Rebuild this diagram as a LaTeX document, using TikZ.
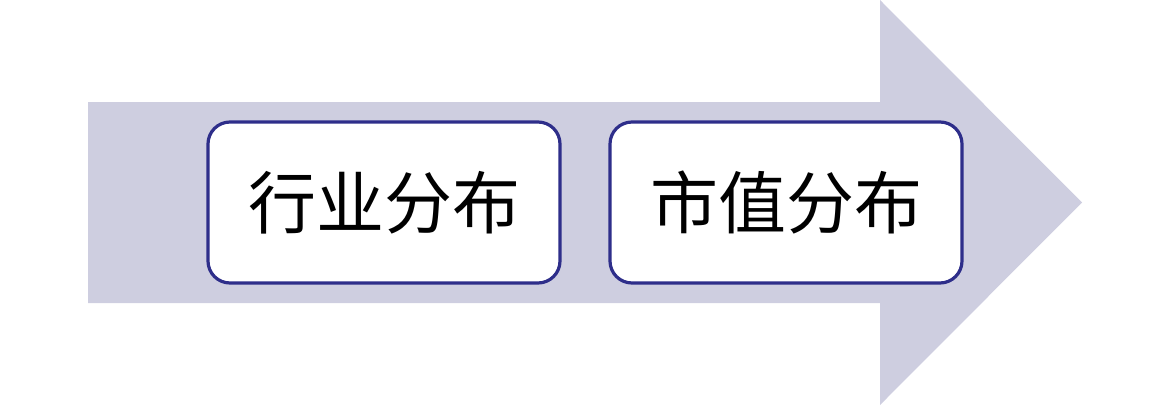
\documentclass[tikz,border=0pt]{standalone}
\usepackage{fontspec}
\newfontfamily\cjk{Noto Sans CJK SC}
\definecolor{arrowfill}{RGB}{206,206,224}
\definecolor{boxline}{RGB}{46,46,138}
\begin{document}
\begin{tikzpicture}[x=1pt,y=-1pt,
  stagebox/.style={draw=boxline,line width=3.2pt,fill=white,rounded corners=22pt,
    minimum width=352pt,minimum height=161pt,inner sep=0pt,
    font=\cjk\fontsize{68}{72}\selectfont,text=black}]
\useasboundingbox (0,0) rectangle (1170,405);
\fill[arrowfill] (88,102) -- (880,102) -- (880,0) -- (1082,202.5) -- (880,405) -- (880,303) -- (88,303) -- cycle;
\node[stagebox] (a) at (384,202.5) {行业分布};
\node[stagebox] (b) at (786,202.5) {市值分布};
\end{tikzpicture}
\end{document}
